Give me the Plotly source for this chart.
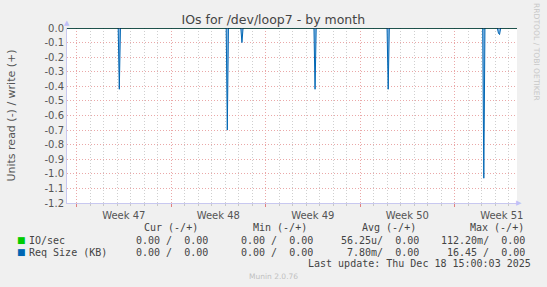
import plotly.graph_objects as go

# ---- data ----
x_start = "2025-11-16 07:00"
x_end = "2025-12-19 15:00"

req_times = [
    "2025-11-16 07:00",
    "2025-11-20 02:00", "2025-11-20 04:00", "2025-11-20 06:00",
    "2025-11-28 02:00", "2025-11-28 04:00", "2025-11-28 06:00",
    "2025-11-29 04:00", "2025-11-29 06:00", "2025-11-29 08:00",
    "2025-12-04 14:00", "2025-12-04 16:00", "2025-12-04 18:00",
    "2025-12-10 00:00", "2025-12-10 02:00", "2025-12-10 04:00",
    "2025-12-17 02:00", "2025-12-17 04:00", "2025-12-17 06:00",
    "2025-12-18 04:00", "2025-12-18 06:00", "2025-12-18 08:00", "2025-12-18 10:00",
    "2025-12-19 15:00",
]
req_read = [
    0.0,
    0.0, -0.42, 0.0,
    0.0, -0.70, 0.0,
    0.0, -0.10, 0.0,
    0.0, -0.42, 0.0,
    0.0, -0.42, 0.0,
    0.0, -1.03, 0.0,
    0.0, -0.035, -0.045, 0.0,
    0.0,
]

io_times = ["2025-11-16 07:00", "2025-12-17 02:00", "2025-12-17 04:00", "2025-12-17 06:00", "2025-12-19 15:00"]
io_read = [0.0, 0.0, -0.012, 0.0, 0.0]

y_ticks = [0.0, -0.1, -0.2, -0.3, -0.4, -0.5, -0.6, -0.7, -0.8, -0.9, -1.0, -1.1, -1.2]

legend_header = ["Cur (-/+)", "Min (-/+)", "Avg (-/+)", "Max (-/+)"]
legend_names = ["IO/sec", "Req Size (KB)"]
legend_colors = ["#00cc00", "#0066b3"]
legend_rows = [
    ["0.00 /  0.00", "0.00 /  0.00", "56.25u/  0.00", "112.20m/  0.00"],
    ["0.00 /  0.00", "0.00 /  0.00", "7.80m/  0.00", "16.45 /  0.00"],
]
last_update = "Last update: Thu Dec 18 15:00:03 2025"

# ---- figure ----
W, H = 547, 287
ML, MR, MT, MB = 66.5, 30, 28, 84

fig = go.Figure()
fig.add_trace(go.Scatter(x=io_times, y=io_read, mode="lines",
                         line=dict(color="#00cc00", width=1), fill="tozeroy",
                         fillcolor="rgba(0,204,0,0.5)", hoverinfo="skip"))
fig.add_trace(go.Scatter(x=req_times, y=req_read, mode="lines",
                         line=dict(color="#0066b3", width=1), fill="tozeroy",
                         fillcolor="rgba(110,170,225,0.8)", hoverinfo="skip"))
fig.add_trace(go.Scatter(x=[x_start, x_end], y=[0, 0], mode="lines",
                         line=dict(color="#000000", width=1),
                         hoverinfo="skip"))

fig.update_layout(
    width=W, height=H,
    margin=dict(l=ML, r=MR, t=MT, b=MB, pad=0),
    paper_bgcolor="#f0f0f0", plot_bgcolor="#ffffff",
    showlegend=False,
    font=dict(family="DejaVu Sans", color="#555555", size=10),
    title=dict(text="IOs for /dev/loop7 - by month", x=273.3 / W, xanchor="center",
               y=1 - 19.5 / H, yanchor="middle",
               font=dict(family="DejaVu Sans", size=12.5, color="#444444")),
)

fig.update_xaxes(
    type="date", range=[x_start, x_end],
    tick0="2025-11-17", dtick=7 * 86400000, ticklabelmode="period",
    tickformat="Week %V",
    showgrid=True, gridcolor="#eaa8a8", griddash="1px,2px", gridwidth=1,
    ticks="outside", ticklen=3, tickcolor="#e08080",
    tickfont=dict(size=10, color="#555555"),
    minor=dict(dtick=86400000, showgrid=True, gridcolor="#cfcfcf", griddash="1px,2px",
               ticks="outside", ticklen=2, tickcolor="#c8c8c8"),
    showline=True, linecolor="#c8c8f0", linewidth=1,
    zeroline=False, fixedrange=True,
)
fig.update_yaxes(
    range=[-1.2, 0.0],
    tickvals=y_ticks, ticktext=[f"{v:.1f}" for v in y_ticks],
    showgrid=True, gridcolor="#eaa8a8", griddash="1px,2px", gridwidth=1,
    ticks="", tickfont=dict(size=10, color="#555555"),
    showline=True, linecolor="#c8c8f0", linewidth=1,
    zeroline=False, fixedrange=True,
    title=dict(text="Units read (-) / write (+)", font=dict(size=11, color="#555555"),
               standoff=26),
)

def px(x):
    return x / W

def py(y):
    return 1 - y / H

anns = []
# axis arrows
anns.append(dict(x=px(66.5), y=py(23), text="▲", showarrow=False, xanchor="center", yanchor="middle",
                 font=dict(size=7, color="#c0c0f8")))
anns.append(dict(x=px(519), y=py(203), text="▶", showarrow=False, xanchor="center", yanchor="middle",
                 font=dict(size=7, color="#c0c0f8")))
# side text
anns.append(dict(x=px(537), y=py(53), text="RRDTOOL / TOBI OETIKER", showarrow=False, textangle=90,
                 xanchor="center", yanchor="middle", font=dict(size=7.6, color="#c8c8c8")))

mono = "DejaVu Sans Mono"
col_right = [209.3, 315.0, 420.7, 526.7]
head_right = [200.0, 308.3, 417.7, 526.0]
def nb(s):
    return s.replace(" ", "\u00a0")
for h, xr in zip(legend_header, head_right):
    anns.append(dict(x=px(xr), y=py(227.5), text=nb(h), showarrow=False, xanchor="right", yanchor="middle",
                     font=dict(family=mono, size=10, color="#444444")))
row_y = [240.0, 252.0]
for name, color, vals, ry in zip(legend_names, legend_colors, legend_rows, row_y):
    anns.append(dict(x=px(14), y=py(ry), text="■", showarrow=False, xanchor="left", yanchor="middle",
                     font=dict(family="DejaVu Sans", size=9, color=color)))
    anns.append(dict(x=px(26.7), y=py(ry), text=nb(name), showarrow=False, xanchor="left", yanchor="middle",
                     font=dict(family=mono, size=10, color="#444444")))
    for v, xr in zip(vals, col_right):
        anns.append(dict(x=px(xr), y=py(ry), text=nb(v), showarrow=False, xanchor="right", yanchor="middle",
                         font=dict(family=mono, size=10, color="#444444")))
anns.append(dict(x=px(532.7), y=py(263.5), text=nb(last_update), showarrow=False, xanchor="right",
                 yanchor="middle", font=dict(family=mono, size=10, color="#444444")))
anns.append(dict(x=px(273), y=py(276), text="Munin 2.0.76", showarrow=False, xanchor="center",
                 yanchor="middle", font=dict(family="DejaVu Sans", size=7.5, color="#c0c0c0")))

for a in anns:
    a["xref"] = "paper"; a["yref"] = "paper"
# paper coordinates are relative to plot area; convert from page pixels
pw = W - ML - MR
ph = H - MT - MB
for a in anns:
    a["x"] = (a["x"] * W - ML) / pw
    a["y"] = ((1 - a["y"]) * H)
    a["y"] = 1 - (a["y"] - MT) / ph
fig.update_layout(annotations=anns)

fig.write_html("out.html")
